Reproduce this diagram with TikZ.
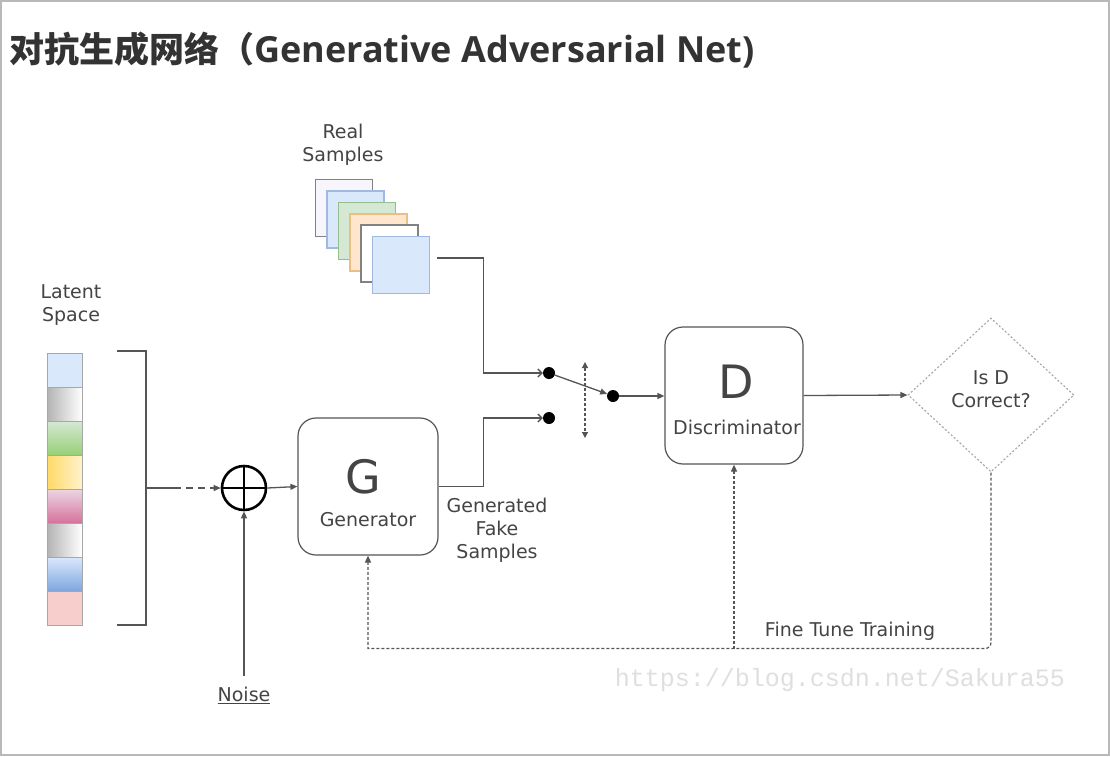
\documentclass[tikz,border=0pt]{standalone}
\usepackage{fontspec}
\setmainfont{DejaVu Sans}
\newfontfamily\cjk{Noto Sans CJK SC}
\newfontfamily\titlefont{Open Sans}
\newfontfamily\markfont{Liberation Mono}
\usetikzlibrary{arrows.meta,positioning,shapes.geometric}
\definecolor{TextGray}{RGB}{68,68,68}
\definecolor{LineGray}{RGB}{85,85,85}
\definecolor{TitleGray}{RGB}{51,51,51}
\definecolor{PaleBlue}{RGB}{218,232,252}
\definecolor{EdgeBlue}{RGB}{160,185,225}
\definecolor{PaleGreen}{RGB}{213,232,212}
\definecolor{EdgeGreen}{RGB}{150,190,140}
\definecolor{PaleOrange}{RGB}{255,230,204}
\definecolor{EdgeOrange}{RGB}{235,190,130}
\definecolor{Lavender}{RGB}{248,246,252}
\definecolor{EdgeGrey}{RGB}{130,130,130}
\definecolor{PalePink}{RGB}{248,206,204}
\definecolor{MidGreen}{RGB}{151,208,119}
\definecolor{Gold}{RGB}{255,217,102}
\definecolor{PaleYellow}{RGB}{255,242,204}
\definecolor{PinkTop}{RGB}{236,214,226}
\definecolor{PinkBot}{RGB}{213,115,157}
\definecolor{BlueBot}{RGB}{126,166,224}

\tikzset{
  lbl/.style={text=TextGray,font=\fontsize{19}{23}\selectfont,align=center,inner sep=0pt},
  biglbl/.style={text=TextGray,font=\fontsize{46}{46}\selectfont,inner sep=0pt},
  blockbox/.style={draw=LineGray,line width=1.2pt,rounded corners=18pt,minimum height=137pt},
  latcell/.style={draw=EdgeGrey!70,line width=1pt,minimum width=35pt,minimum height=34pt,inner sep=0pt},
  dot/.style={circle,fill=black,inner sep=0pt,minimum size=12pt},
  conn/.style={draw=LineGray,line width=1.3pt},
  tri/.style={-{Triangle[length=7pt,width=6pt]}},
  barb/.style={-{Straight Barb[length=4pt,width=8pt]}},
  fb/.style={draw=LineGray,line width=1.2pt,dash pattern=on 3pt off 2pt}
}

\begin{document}
\begin{tikzpicture}[x=1pt,y=-1pt]
  \useasboundingbox (0,0) rectangle (1110,756);
  \fill[white] (0,0) rectangle (1110,756);
  \draw[gray!55,line width=2pt] (1,1) rectangle (1109,755);

  % title
  \node[anchor=base west,inner sep=0pt,text=TitleGray] (title) at (9,62)
    {{\cjk\bfseries\fontsize{35}{35}\selectfont 对抗生成网络（}{\titlefont\bfseries\fontsize{36}{36}\selectfont Generative Adversarial Net)}};

  % real samples
  \node[lbl] (reallbl) at (343,145) {Real\\Samples};
  \foreach \i/\fc/\dc in {1/Lavender/EdgeGrey,2/PaleBlue/EdgeBlue,3/PaleGreen/EdgeGreen,
                          4/PaleOrange/EdgeOrange,5/white/EdgeGrey,6/PaleBlue/EdgeBlue}
    \node[draw=\dc,fill=\fc,line width=1.6pt,minimum size=57pt,inner sep=0pt]
      (rs\i) at ({344+11.4*(\i-1)},{208+11.4*(\i-1)}) {};

  % latent space
  \node[lbl] (latlbl) at (71,305) {Latent\\Space};
  \node[latcell,fill=PaleBlue] (lat1) at (64.5,370) {};
  \node[latcell,left color=gray!60,right color=white] (lat2) at (64.5,404) {};
  \node[latcell,top color=PaleGreen,bottom color=MidGreen] (lat3) at (64.5,438) {};
  \node[latcell,left color=Gold,right color=PaleYellow] (lat4) at (64.5,472) {};
  \node[latcell,top color=PinkTop,bottom color=PinkBot] (lat5) at (64.5,506) {};
  \node[latcell,left color=gray!60,right color=white] (lat6) at (64.5,540) {};
  \node[latcell,top color=PaleBlue,bottom color=BlueBot] (lat7) at (64.5,574) {};
  \node[latcell,fill=PalePink] (lat8) at (64.5,608) {};
  \draw[conn] (117,351) -- (146,351) -- (146,625) -- (117,625);
  \coordinate (brk) at (146,488);
  \coordinate (brkend) at (174,488);

  % noise and sum
  \node[circle,draw=black,line width=2.6pt,minimum size=44pt,inner sep=0pt] (plus) at (244,488) {};
  \draw[line width=2.6pt] (plus.north) -- (plus.south) (plus.west) -- (plus.east);
  \node[lbl] (noise) at (244,695) {\underline{Noise}};
  \draw[conn] (brk) -- (brkend);
  \draw[conn,dash pattern=on 7pt off 5pt,tri] (brkend) -- (plus.west);
  \draw[conn,tri,shorten <=10pt] (noise.north) -- (plus.south);

  % generator
  \node[blockbox,minimum width=140pt] (gen) at (368,486.5) {};
  \node[biglbl] (gletter) at (363,477) {G};
  \node[lbl] (genlbl) at (368,520) {Generator};
  \draw[conn,tri] (plus.east) -- (gen.west);
  \node[lbl] (fakelbl) at (497,530) {Generated\\Fake\\Samples};

  % switch
  \node[dot] (sw1) at (549,373) {};
  \node[dot] (sw2) at (549,418) {};
  \node[dot] (sw3) at (613,396) {};
  \coordinate (togtop) at (585,362);
  \coordinate (togbot) at (585,438);
  \draw[conn,barb] ([shift={(7,-7)}]rs6.east) -- ++(46,0) |- (sw1);
  \draw[conn,barb] (gen.east) -- ++(45,0) |- (sw2);
  \draw[conn,tri] (sw1) -- (sw3);
  \draw[fb,{Triangle[length=6pt,width=6pt]}-{Triangle[length=6pt,width=6pt]}] (togtop) -- (togbot);

  % discriminator
  \node[blockbox,minimum width=138pt] (disc) at (734,395.5) {};
  \node[biglbl] (dletter) at (736,382) {D};
  \node[lbl] (disclbl) at (737,427) {Discriminator};
  \draw[conn,tri] (sw3) -- (disc.west |- sw3);

  % decision
  \node[diamond,draw=gray!70,line width=1.1pt,dash pattern=on 2pt off 2pt,
        minimum width=166pt,minimum height=154pt,inner sep=0pt] (judge) at (991,395) {};
  \node[lbl] (judgelbl) at (991,389) {Is D\\Correct?};
  \draw[conn,tri] (disc.east) -- (judge.west);

  % fine tune feedback
  \draw[fb,tri] (judge.south) [rounded corners=6pt] -- ++(0,176) coordinate (fbcorner)
    [sharp corners] -| (gen.south);
  \draw[fb,tri] (disc.south |- fbcorner) -- (disc.south);
  \node[lbl] (ftlbl) at (850,631) {Fine Tune Training};

  \node[text=gray!25,font=\markfont\fontsize{25}{25}\selectfont,inner sep=0pt] (mark) at (840,680)
    {https://blog.csdn.net/Sakura55};
\end{tikzpicture}
\end{document}
